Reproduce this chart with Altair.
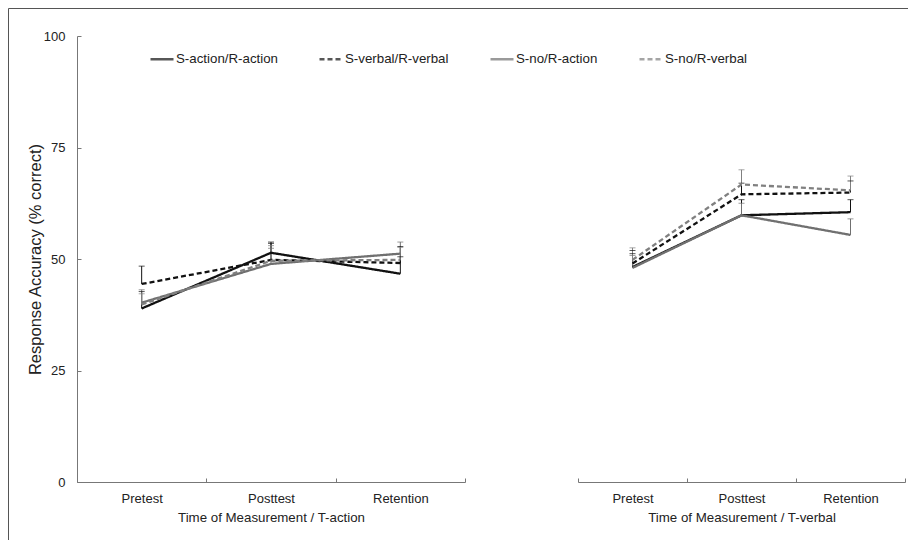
import altair as alt
import pandas as pd

times = ["Pretest", "Posttest", "Retention"]
series = ["S-action/R-action", "S-verbal/R-verbal", "S-no/R-action", "S-no/R-verbal"]

# T-action panel: means and tops of the error bars
act_action = [38.9, 51.4, 46.7]
act_verbal = [44.4, 49.8, 49.1]
act_noact = [40.2, 48.9, 51.2]
act_noverb = [39.8, 49.6, 49.8]
act_action_top = [42.7, 53.8, 50.5]
act_verbal_top = [48.4, 53.5, 52.8]
act_noact_top = [43.1, 52.4, 53.8]
act_noverb_top = [42.2, 53.0, 52.6]

# T-verbal panel
verb_action = [48.2, 59.8, 60.5]
verb_verbal = [49.0, 64.5, 64.9]
verb_noact = [48.0, 59.8, 55.4]
verb_noverb = [49.8, 66.7, 65.4]
verb_action_top = [51.2, 63.3, 63.3]
verb_verbal_top = [51.9, 67.0, 67.5]
verb_noact_top = [50.8, 62.5, 59.0]
verb_noverb_top = [52.5, 70.0, 68.6]


def build(means, tops):
    rows = []
    for s, m, t in zip(series, means, tops):
        for i, (tm, mv, tv) in enumerate(zip(times, m, t)):
            rows.append({"time": tm, "idx": i, "series": s, "mean": mv, "top": tv})
    return pd.DataFrame(rows)


df_act = build([act_action, act_verbal, act_noact, act_noverb],
               [act_action_top, act_verbal_top, act_noact_top, act_noverb_top])
df_verb = build([verb_action, verb_verbal, verb_noact, verb_noverb],
                [verb_action_top, verb_verbal_top, verb_noact_top, verb_noverb_top])

W, H = 900, 532
colors = ["#111111", "#111111", "#707070", "#808080"]
dashes = [[1, 0], [5, 3], [1, 0], [5, 3]]

yscale = alt.Scale(domain=[0, 100], range=[474, 28], nice=False, zero=False)
# axis drawn on the "right" side but moved onto the plot so ticks point inward
yaxis = alt.Axis(title="Response Accuracy (% correct)", orient="right",
                 offset=-831, values=[0, 25, 50, 75, 100], tickSize=4,
                 labelAlign="right", labelPadding=-16, labelBaseline="middle",
                 titleX=-42, titleY=251, titleAngle=270, titleAlign="center",
                 titleBaseline="middle", titleFontSize=16.5)
leg = alt.Legend(title=None, orient="none", legendX=141, legendY=38,
                 direction="horizontal", columns=4, columnPadding=36,
                 symbolType="stroke", symbolSize=529, symbolStrokeWidth=2.5,
                 labelOffset=1, padding=0)
cscale = alt.Scale(domain=series, range=colors)
dscale = alt.Scale(domain=series, range=dashes)


def panel(df, title, rng):
    x = alt.X("time:N", sort=times, bandPosition=0.5,
              scale=alt.Scale(type="band", domain=times, range=rng,
                              paddingInner=0, paddingOuter=0),
              axis=alt.Axis(title=title, orient="top", offset=-474,
                            tickBand="extent", tickSize=4, labelPadding=-20,
                            labelBaseline="middle", labelAngle=0,
                            titleY=35, titleBaseline="middle"))
    base = alt.Chart(df)
    color = alt.Color("series:N", scale=cscale, legend=leg)
    dash = alt.StrokeDash("series:N", scale=dscale, legend=leg)
    rules = base.mark_rule(strokeWidth=1).encode(
        x=x, y=alt.Y("mean:Q", scale=yscale, axis=yaxis), y2="top:Q",
        color=color)
    caps = base.mark_tick(thickness=1, size=6).encode(
        x=x, y=alt.Y("top:Q", scale=yscale, axis=yaxis), color=color)
    lines = base.mark_line(strokeWidth=2.3).encode(
        x=x, y=alt.Y("mean:Q", scale=yscale, axis=yaxis),
        color=color, strokeDash=dash, order=alt.Order("idx:Q"))
    return alt.layer(rules, caps, lines)


left = panel(df_act, "Time of Measurement / T-action", [69, 457])
right = panel(df_verb, "Time of Measurement / T-verbal", [570, 897])

chart = alt.layer(left, right).resolve_scale(x="independent").resolve_axis(
    x="independent").properties(
    width=W, height=H, padding=0,
    autosize=alt.AutoSizeParams(type="none"),
).configure_view(stroke="#555555", strokeWidth=1).configure_axis(
    labelFont="Liberation Sans", titleFont="Liberation Sans",
    labelFontSize=13, titleFontSize=13.3, labelColor="#222222",
    titleColor="#222222", titleFontWeight="normal", domainColor="#777777",
    tickColor="#777777", grid=False,
).configure_legend(
    labelFont="Liberation Sans", labelFontSize=13.3, labelColor="#222222",
)

chart.save("out.html", embed_options={"renderer": "svg", "actions": False})
